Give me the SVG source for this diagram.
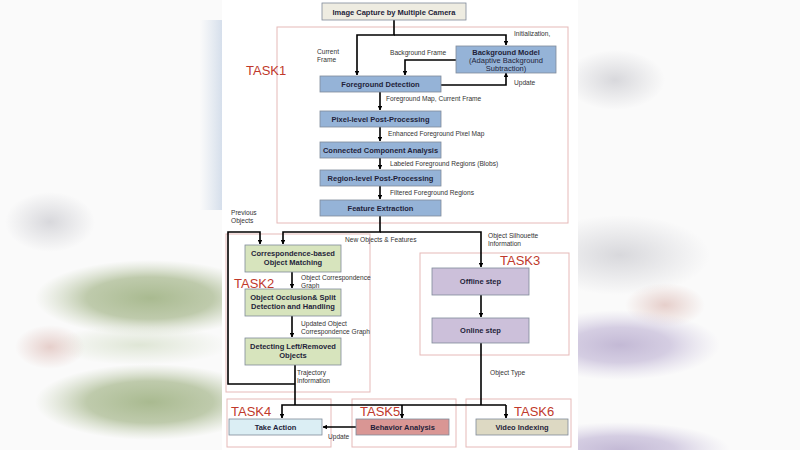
<svg xmlns="http://www.w3.org/2000/svg" width="800" height="450" viewBox="0 0 800 450">
<defs>
<style>
.box{stroke:#7f8a99;stroke-width:0.8}
.blue{fill:#95b3d7}
.green{fill:#d7e4bd}
.purple{fill:#ccc0da}
.task{fill:none;stroke:#e6b9b8;stroke-width:1}
.tl{font-family:"Liberation Sans",Arial,sans-serif;font-size:13px;fill:#c0392b}
.bt{font-family:"Liberation Sans",Arial,sans-serif;font-size:7.5px;font-weight:bold;fill:#1f1f3a;text-anchor:middle}
.st{font-family:"Liberation Sans",Arial,sans-serif;font-size:6.6px;fill:#333}
.ln{fill:none;stroke:#000;stroke-width:1.6}
</style>
<marker id="ah" viewBox="0 0 10 10" refX="9" refY="5" markerWidth="4.5" markerHeight="4.5" orient="auto" markerUnits="userSpaceOnUse">
<path d="M0,0 L10,5 L0,10 z" fill="#000"/>
</marker>
<radialGradient id="gGreen"><stop offset="0" stop-color="#a9ba90"/><stop offset="0.55" stop-color="#b4c29e" stop-opacity="0.85"/><stop offset="1" stop-color="#c8d2b8" stop-opacity="0"/></radialGradient>
<radialGradient id="gPale"><stop offset="0" stop-color="#dfe6d6"/><stop offset="1" stop-color="#dfe6d6" stop-opacity="0"/></radialGradient>
<radialGradient id="gGray"><stop offset="0" stop-color="#d8d8dc"/><stop offset="1" stop-color="#d8d8dc" stop-opacity="0"/></radialGradient>
<radialGradient id="gPink"><stop offset="0" stop-color="#e6cfcb"/><stop offset="1" stop-color="#e6cfcb" stop-opacity="0"/></radialGradient>
<radialGradient id="gPurple"><stop offset="0" stop-color="#c3b9d5"/><stop offset="0.5" stop-color="#cbc2dc" stop-opacity="0.8"/><stop offset="1" stop-color="#d8d2e6" stop-opacity="0"/></radialGradient>
<linearGradient id="gBlue" x1="0" y1="0" x2="1" y2="0"><stop offset="0" stop-color="#d6e0ec" stop-opacity="0"/><stop offset="1" stop-color="#d2dcea"/></linearGradient>
</defs>

<g id="background">
<rect x="0" y="0" width="800" height="450" fill="#fafafa"/>
<rect x="200" y="20" width="24" height="190" fill="url(#gBlue)"/>
<ellipse cx="50" cy="222" rx="45" ry="30" fill="url(#gGray)"/>
<ellipse cx="150" cy="298" rx="115" ry="38" fill="url(#gGreen)"/>
<ellipse cx="140" cy="345" rx="90" ry="20" fill="url(#gPale)"/>
<ellipse cx="50" cy="347" rx="35" ry="22" fill="url(#gPink)"/>
<ellipse cx="150" cy="402" rx="115" ry="38" fill="url(#gGreen)"/>
<ellipse cx="615" cy="80" rx="50" ry="30" fill="url(#gGray)"/>
<ellipse cx="620" cy="255" rx="90" ry="40" fill="url(#gGray)"/>
<ellipse cx="665" cy="305" rx="40" ry="22" fill="url(#gPink)"/>
<ellipse cx="620" cy="345" rx="100" ry="35" fill="url(#gPurple)"/>
<ellipse cx="620" cy="450" rx="110" ry="28" fill="url(#gPurple)"/>
<rect x="222" y="0" width="356" height="450" fill="#ffffff"/>
</g>

<g id="task-frames">
<rect class="task" x="277" y="27" width="291" height="196"/>
<rect class="task" x="226" y="234" width="144" height="158"/>
<rect class="task" x="420" y="253" width="149" height="102"/>
<rect class="task" x="227" y="399" width="104" height="48"/>
<rect class="task" x="352" y="399" width="104" height="48"/>
<rect class="task" x="466" y="399" width="105" height="48"/>
<text class="tl" x="246" y="75">TASK1</text>
<text class="tl" x="234" y="288">TASK2</text>
<text class="tl" x="500" y="265">TASK3</text>
<text class="tl" x="231" y="416">TASK4</text>
<text class="tl" x="360" y="416">TASK5</text>
<text class="tl" x="514" y="416">TASK6</text>
</g>

<g id="connectors">
<path class="ln" d="M394,20 V35 H357 V75" marker-end="url(#ah)"/>
<path class="ln" d="M394,35 H506 V45" marker-end="url(#ah)"/>
<path class="ln" d="M456,60 H405 V75" marker-end="url(#ah)"/>
<path class="ln" d="M441,85 H506 V73" marker-end="url(#ah)"/>
<path class="ln" d="M380,92 V110" marker-end="url(#ah)"/>
<path class="ln" d="M380,127 V141" marker-end="url(#ah)"/>
<path class="ln" d="M380,158 V169" marker-end="url(#ah)"/>
<path class="ln" d="M380,186 V199" marker-end="url(#ah)"/>
<path class="ln" d="M380,216 V232 H283 V244" marker-end="url(#ah)"/>
<path class="ln" d="M380,232 H481 V267" marker-end="url(#ah)"/>
<path class="ln" d="M295,384 H228 V232 H260 V244" marker-end="url(#ah)"/>
<path class="ln" d="M292,272 V288" marker-end="url(#ah)"/>
<path class="ln" d="M292,316 V337" marker-end="url(#ah)"/>
<path class="ln" d="M481,295 V317" marker-end="url(#ah)"/>
<path class="ln" d="M295,365 V405"/>
<path class="ln" d="M481,343 V405"/>
<path class="ln" d="M506,405 H282 V418" marker-end="url(#ah)"/>
<path class="ln" d="M402,405 V418" marker-end="url(#ah)"/>
<path class="ln" d="M506,405 V418" marker-end="url(#ah)"/>
<path class="ln" d="M356,427 H323" marker-end="url(#ah)"/>
</g>

<g id="labels">
<text class="st" x="514" y="36">Initialization,</text>
<text class="st" x="317" y="54">Current</text>
<text class="st" x="317" y="62">Frame</text>
<text class="st" x="390" y="55">Background Frame</text>
<text class="st" x="514" y="85">Update</text>
<text class="st" x="386" y="101">Foreground Map, Current Frame</text>
<text class="st" x="388" y="136">Enhanced Foreground Pixel Map</text>
<text class="st" x="390" y="166">Labeled Foreground Regions (Blobs)</text>
<text class="st" x="390" y="195">Filtered Foreground Regions</text>
<text class="st" x="231" y="215">Previous</text>
<text class="st" x="231" y="223">Objects</text>
<text class="st" x="345" y="242">New Objects &amp; Features</text>
<text class="st" x="488" y="238">Object Silhouette</text>
<text class="st" x="488" y="246">Information</text>
<text class="st" x="301" y="280">Object Correspondence</text>
<text class="st" x="301" y="288">Graph</text>
<text class="st" x="301" y="326">Updated Object</text>
<text class="st" x="301" y="334">Correspondence Graph</text>
<text class="st" x="297" y="375">Trajectory</text>
<text class="st" x="297" y="383">Information</text>
<text class="st" x="490" y="375">Object Type</text>
<text class="st" x="328" y="439">Update</text>
</g>

<g id="n-capture">
<rect class="box" x="322" y="3" width="144" height="17" fill="#eeece1"/>
<text class="bt" x="394" y="14.5">Image Capture by Multiple Camera</text>
</g>
<g id="n-bgmodel">
<rect class="box blue" x="456" y="46" width="100" height="27"/>
<text class="bt" x="506" y="54.5">Background Model</text>
<text class="bt" x="506" y="62.5" style="font-weight:normal">(Adaptive Background</text>
<text class="bt" x="506" y="70.5" style="font-weight:normal">Subtraction)</text>
</g>
<g id="n-fgdet">
<rect class="box blue" x="320" y="76" width="121" height="16"/>
<text class="bt" x="380.5" y="87">Foreground Detection</text>
</g>
<g id="n-pixel">
<rect class="box blue" x="320" y="111" width="121" height="16"/>
<text class="bt" x="380.5" y="122">Pixel-level Post-Processing</text>
</g>
<g id="n-cca">
<rect class="box blue" x="320" y="142" width="121" height="16"/>
<text class="bt" x="380.5" y="153">Connected Component Analysis</text>
</g>
<g id="n-region">
<rect class="box blue" x="320" y="170" width="121" height="16"/>
<text class="bt" x="380.5" y="181">Region-level Post-Processing</text>
</g>
<g id="n-feature">
<rect class="box blue" x="320" y="200" width="121" height="16"/>
<text class="bt" x="380.5" y="211">Feature Extraction</text>
</g>
<g id="n-corr">
<rect class="box green" x="245" y="245" width="96" height="27"/>
<text class="bt" x="293" y="256">Correspondence-based</text>
<text class="bt" x="293" y="265">Object Matching</text>
</g>
<g id="n-occl">
<rect class="box green" x="245" y="289" width="96" height="27"/>
<text class="bt" x="293" y="300">Object Occlusion&amp; Split</text>
<text class="bt" x="293" y="309">Detection and Handling</text>
</g>
<g id="n-detect">
<rect class="box green" x="245" y="338" width="96" height="27"/>
<text class="bt" x="293" y="349">Detecting Left/Removed</text>
<text class="bt" x="293" y="358">Objects</text>
</g>
<g id="n-offline">
<rect class="box purple" x="432" y="268" width="97" height="27"/>
<text class="bt" x="480.5" y="284">Offline step</text>
</g>
<g id="n-online">
<rect class="box purple" x="432" y="318" width="97" height="25"/>
<text class="bt" x="480.5" y="333">Online step</text>
</g>
<g id="n-take">
<rect class="box" x="229" y="419" width="93" height="16" fill="#dbeef4"/>
<text class="bt" x="275.5" y="430">Take Action</text>
</g>
<g id="n-behavior">
<rect class="box" x="356" y="419" width="93" height="16" fill="#d99694"/>
<text class="bt" x="402.5" y="430">Behavior Analysis</text>
</g>
<g id="n-video">
<rect class="box" x="476" y="419" width="92" height="16" fill="#ddd9c3"/>
<text class="bt" x="522" y="430">Video Indexing</text>
</g>
</svg>
